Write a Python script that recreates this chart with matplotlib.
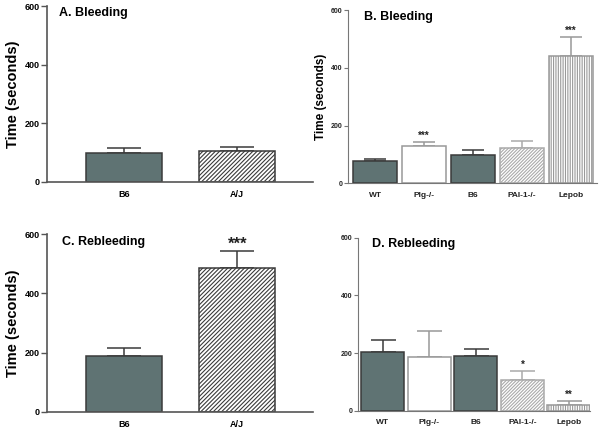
import matplotlib
matplotlib.use('Agg')
import matplotlib.pyplot as plt
import numpy as np

plt.rcParams['font.family'] = ['Liberation Sans', 'DejaVu Sans']
plt.rcParams['hatch.linewidth'] = 0.8

# data
strains_ac = ['B6', 'A/J']
bleed_a = [100, 106]
bleed_a_err = [17, 13]
rebleed_c = [188, 485]
rebleed_c_err = [26, 58]
stars_c = ['', '***']

strains_bd = ['WT', 'Plg-/-', 'B6', 'PAI-1-/-', 'Lepob']
bleed_b = [78, 130, 99, 122, 440]
bleed_b_err = [7, 14, 17, 26, 66]
stars_b = ['', '***', '', '', '***']
rebleed_d = [205, 186, 189, 106, 20]
rebleed_d_err = [40, 89, 24, 31, 13]
stars_d = ['', '', '', '*', '**']

GRAY = '#5f7373'
DARK = '#3a3a3a'

# fill, edge, hatch per strain
style_ac = [(GRAY, DARK, None), ('white', DARK, '////////')]
style_bd = [(GRAY, DARK, None), ('white', '#999999', None), (GRAY, DARK, None),
            ('white', '#aaaaaa', '//////////'), ('white', '#999999', '|||||||')]


def draw(ax, names, vals, errs, styles, width, capsize, stars, star_fs, star_off):
    x = np.arange(len(names))
    for i in range(len(names)):
        fc, ec, h = styles[i]
        ax.errorbar(x[i], vals[i], yerr=[[0], [errs[i]]], fmt='none', ecolor=ec,
                    elinewidth=1.1, capsize=capsize, capthick=1.1, zorder=1)
        ax.bar(x[i], vals[i], width, color=fc, edgecolor=ec, hatch=h,
               linewidth=1.1, zorder=2)
        if stars[i]:
            ax.text(x[i], vals[i] + errs[i] + star_off, stars[i], ha='center',
                    va='center', fontsize=star_fs, fontweight='bold', color='#222222')
    ax.set_xticks(x)
    ax.set_xticklabels(names)
    ax.set_ylim(0, 600)
    ax.set_yticks([0, 200, 400, 600])
    for s in ['top', 'right']:
        ax.spines[s].set_visible(False)


fig = plt.figure(figsize=(6, 4.32), dpi=100)

axA = fig.add_axes([0.078, 0.579, 0.443, 0.407])
axB = fig.add_axes([0.58, 0.576, 0.415, 0.400])
axC = fig.add_axes([0.078, 0.047, 0.443, 0.411])
axD = fig.add_axes([0.597, 0.049, 0.386, 0.401])

draw(axA, strains_ac, bleed_a, bleed_a_err, style_ac, 0.67, 12.5, ['', ''], 12, 30)
draw(axC, strains_ac, rebleed_c, rebleed_c_err, style_ac, 0.67, 12.5, stars_c, 12, 22)
draw(axB, strains_bd, bleed_b, bleed_b_err, style_bd, 0.9, 8, stars_b, 7, 22)
draw(axD, strains_bd, rebleed_d, rebleed_d_err, style_bd, 0.92, 9, stars_d, 7, 22)

axA.set_xlim(-0.68, 1.665)
axC.set_xlim(-0.68, 1.665)
axB.set_xlim(-0.56, 4.54)
axD.set_xlim(-0.53, 4.45)

for ax in [axA, axC]:
    ax.spines['left'].set_color('#555555')
    ax.spines['bottom'].set_color('#555555')
    ax.spines['left'].set_linewidth(1.2)
    ax.spines['bottom'].set_linewidth(1.2)
    ax.tick_params(axis='y', length=4, width=1, color='#555555', labelsize=6.5, pad=1)
    ax.tick_params(axis='x', length=0, labelsize=6.5, pad=6)
    for t in ax.get_xticklabels() + ax.get_yticklabels():
        t.set_fontweight('bold')
    ax.set_ylabel('Time (seconds)', fontsize=10.5, fontweight='bold')
    ax.yaxis.set_label_coords(-0.10, 0.5)

for ax in [axB, axD]:
    ax.spines['left'].set_color('#777777')
    ax.spines['bottom'].set_color('#777777')
    ax.tick_params(axis='y', length=3, width=0.8, color='#777777', labelsize=5, pad=1)
    ax.tick_params(axis='x', length=0, labelsize=6, pad=6)
    for t in ax.get_xticklabels() + ax.get_yticklabels():
        t.set_fontweight('bold')
        t.set_color('#222222')

axB.set_ylabel('Time (seconds)', fontsize=8.5, fontweight='bold')
axB.yaxis.set_label_coords(-0.085, 0.5)

axA.text(0.045, 0.96, 'A. Bleeding', transform=axA.transAxes, fontsize=9,
         fontweight='bold', va='center', ha='left')
axB.text(0.064, 0.961, 'B. Bleeding', transform=axB.transAxes, fontsize=9,
         fontweight='bold', va='center', ha='left')
axC.text(0.056, 0.953, 'C. Rebleeding', transform=axC.transAxes, fontsize=9,
         fontweight='bold', va='center', ha='left')
axD.text(0.059, 0.965, 'D. Rebleeding', transform=axD.transAxes, fontsize=9,
         fontweight='bold', va='center', ha='left')

fig.savefig('out.png', dpi=100)
